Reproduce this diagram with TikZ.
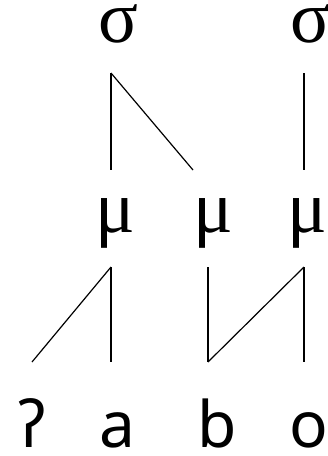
\documentclass[tikz,border=0pt]{standalone}
\usepackage{fontspec}
\usepackage{tikz}
\newfontfamily\tierfont{Liberation Serif}
\newfontfamily\segfont{Noto Sans}

\begin{document}
\begin{tikzpicture}[x=1pt, y=-1pt,
		tier/.style={anchor=base, inner sep=0pt, font=\fontsize{74}{80}\selectfont\tierfont},
		seg/.style={anchor=base, inner sep=0pt, font=\fontsize{64}{70}\selectfont\segfont},
		assoc/.style={line width=1.2pt, black}]
		\useasboundingbox (0,0) rectangle (328,456);
		% syllables
		\node[tier] (s1) at (118,42) {σ};
		\node[tier] (s2) at (310,42) {σ};
		% moras
		\node[tier] (m1) at (115,232) {μ};
		\node[tier] (m2) at (213,232) {μ};
		\node[tier] (m3) at (307,232) {μ};
		% segments
		\node[seg] (gs) at (32,447) {ʔ};
		\node[seg] (a) at (117,447) {a};
		\node[seg] (b) at (217,447) {b};
		\node[seg] (o) at (309,447) {o};
		% syllable to mora
		\draw[assoc] ([xshift=-7pt,yshift=-31pt]s1.base) -- ([xshift=-4pt,yshift=62pt]m1.base);
		\draw[assoc] ([xshift=-7pt,yshift=-31pt]s1.base) -- ([xshift=-20pt,yshift=62pt]m2.base);
		\draw[assoc] ([xshift=-6pt,yshift=-31pt]s2.base) -- ([xshift=-3pt,yshift=62pt]m3.base);
		% mora to segment
		\draw[assoc] ([xshift=-4pt,yshift=-35pt]m1.base) -- ([yshift=85pt]gs.base);
		\draw[assoc] ([xshift=-4pt,yshift=-35pt]m1.base) -- ([xshift=-6pt,yshift=85pt]a.base);
		\draw[assoc] ([xshift=-5pt,yshift=-35pt]m2.base) -- ([xshift=-9pt,yshift=85pt]b.base);
		\draw[assoc] ([xshift=-3pt,yshift=-35pt]m3.base) -- ([xshift=-9pt,yshift=85pt]b.base);
		\draw[assoc] ([xshift=-3pt,yshift=-35pt]m3.base) -- ([xshift=-5pt,yshift=85pt]o.base);
	\end{tikzpicture}
\end{document}
